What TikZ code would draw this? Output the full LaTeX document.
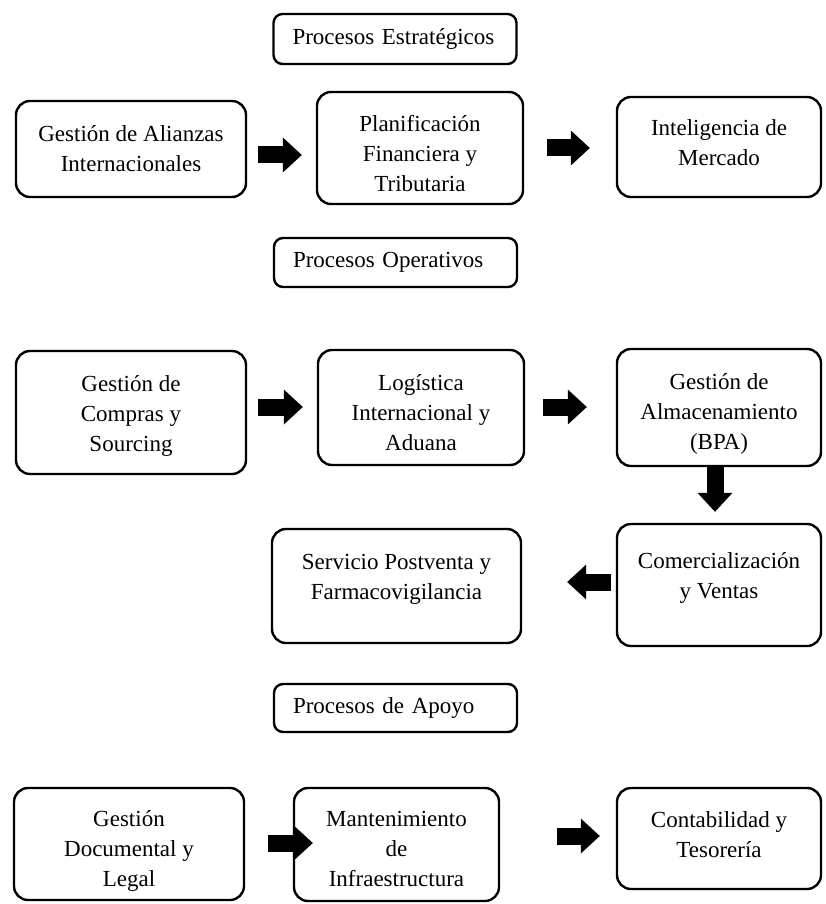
\documentclass[tikz,border=0pt]{standalone}
\usepackage{fontspec}
\setmainfont{Liberation Serif}
\usetikzlibrary{arrows.meta}
% invisible struts that move a box's text block down (taller first line) or up (deeper last line)
\newcommand\boxdrop[1]{\rule{0pt}{#1}}
\newcommand\boxlift[1]{\rule[-#1]{0pt}{#1}}
\begin{document}
\begin{tikzpicture}[x=1pt,y=-1pt,
  box/.style={draw=black, line width=2.4pt, rounded corners=14pt, align=center,
    inner sep=4pt, font=\fontsize{23}{30}\selectfont},
  headbox/.style={box, rounded corners=9pt, align=left, text width=205pt},
  flow/.style={line width=17pt, -{Triangle[length=19pt,width=35pt,line width=0pt]}}
]
\useasboundingbox (0,0) rectangle (825,904);

% Strategic processes
\node[headbox, minimum width=243, minimum height=50] (h1) at (395,39) {Procesos Estratégicos};
\node[box, minimum width=230, minimum height=96] (a1) at (131,149) {Gestión de Alianzas\\Internacionales};
\node[box, minimum width=206, minimum height=112] (a2) at (420,148) {\boxdrop{28pt}Planificación\\Financiera y\\Tributaria};
\node[box, minimum width=204, minimum height=100] (a3) at (719,147) {Inteligencia de\\Mercado\boxlift{8pt}};

% Operative processes
\node[headbox, minimum width=243, minimum height=49] (h2) at (395.5,262.5) {Procesos Operativos};
\node[box, minimum width=230, minimum height=123] (b1) at (131,412.5) {\boxdrop{22pt}Gestión de\\Compras y\\Sourcing};
\node[box, minimum width=206, minimum height=115] (b2) at (421,407.5) {\boxdrop{26pt}Logística\\Internacional y\\Aduana};
\node[box, minimum width=204, minimum height=117] (b3) at (719,407.5) {\boxdrop{28pt}Gestión de\\Almacenamiento\\(BPA)};
\node[box, minimum width=249, minimum height=114] (c1) at (396.5,586) {Servicio Postventa y\\Farmacovigilancia\boxlift{19pt}};
\node[box, minimum width=204, minimum height=122] (c2) at (719,585) {Comercialización\\y Ventas\boxlift{19pt}};

% Support processes
\node[headbox, minimum width=243, minimum height=48] (h3) at (395.5,708) {Procesos de Apoyo};
\node[box, minimum width=230, minimum height=112] (d1) at (129,844) {\boxdrop{30pt}Gestión\\Documental y\\Legal};
\node[box, minimum width=205, minimum height=113] (d2) at (396.5,844.5) {\boxdrop{24pt}Mantenimiento\\de\\Infraestructura};
\node[box, minimum width=204, minimum height=101] (d3) at (719,838.5) {Contabilidad y\\Tesorería\boxlift{8pt}};

% Block arrows between the process boxes
\draw[flow, shorten <=11pt, shorten >=14pt] (a1.east |- 0,155) -- (a2.west |- 0,155);
\draw[flow, shorten <=23pt, shorten >=26pt] (a2.east |- 0,148) -- (a3.west |- 0,148);
\draw[flow, shorten <=11pt, shorten >=14pt] (b1.east |- 0,407) -- (b2.west |- 0,407);
\draw[flow, shorten <=18pt, shorten >=29pt] (b2.east |- 0,407) -- (b3.west |- 0,407);
\draw[flow, shorten <=0pt, shorten >=11pt] (b3.south -| 715,0) -- (c2.north -| 715,0);
\draw[flow, shorten <=5pt, shorten >=45pt] (c2.west |- 0,582) -- (c1.east |- 0,582);
\draw[flow, shorten <=23pt, shorten >=-20pt] (d1.east |- 0,843) -- (d2.west |- 0,843);
\draw[flow, shorten <=57pt, shorten >=16pt] (d2.east |- 0,836) -- (d3.west |- 0,836);
\end{tikzpicture}
\end{document}
